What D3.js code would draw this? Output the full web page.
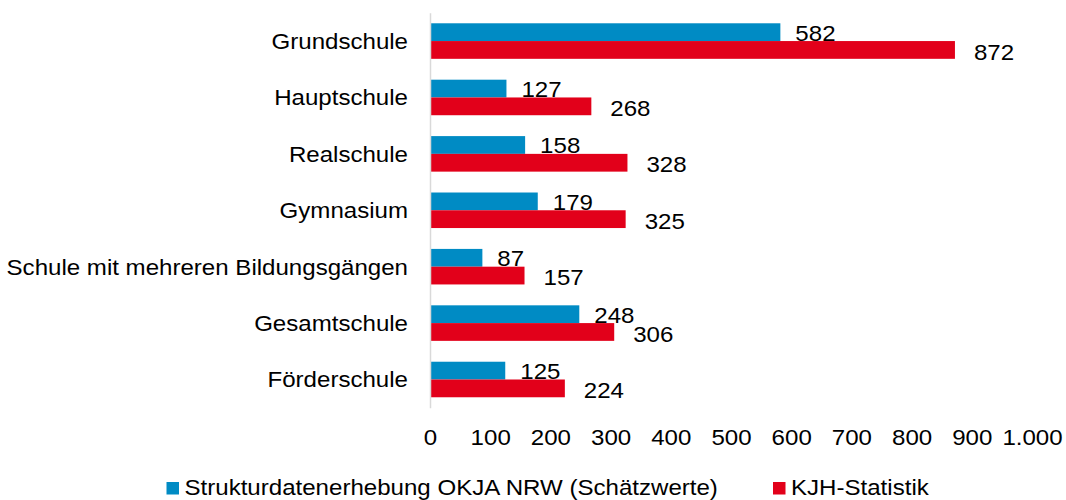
<!DOCTYPE html>
<html>
<head>
<meta charset="utf-8">
<script src="https://cdn.jsdelivr.net/npm/d3@7"></script>
<style>
  html, body { margin: 0; padding: 0; background: #ffffff; }
  svg { display: block; }
  text { font-family: "Liberation Sans", Arial, sans-serif; fill: #000; }
</style>
</head>
<body>
<svg id="chart" width="1066" height="500"></svg>
<script>
const categories = ["Grundschule", "Hauptschule", "Realschule", "Gymnasium",
  "Schule mit mehreren Bildungsgängen", "Gesamtschule", "Förderschule"];
const seriesNames = ["Strukturdatenerhebung OKJA NRW (Schätzwerte)", "KJH-Statistik"];
const okjaValues = [582, 127, 158, 179, 87, 248, 125];
const kjhValues = [872, 268, 328, 325, 157, 306, 224];
const tickValues = [0, 100, 200, 300, 400, 500, 600, 700, 800, 900, 1000];
const colors = ["#008BC4", "#E2001A"];

const FONT = 22.5, SX = 1.07;
const svg = d3.select("#chart");
const locale = d3.formatLocale({decimal: ",", thousands: ".", grouping: [3], currency: ["", "€"]});
const fmt = locale.format(",");

const x = d3.scaleLinear().domain([0, 1000]).range([430, 1032]);
const y = d3.scaleBand().domain(categories).range([12.85, 407.7])
  .paddingInner(0.37).paddingOuter(0.185);
const ySub = d3.scaleBand().domain([0, 1]).range([0, y.bandwidth()]);

const series = [okjaValues, kjhValues];

// bars
series.forEach((vals, s) => {
  svg.append("g").selectAll("rect").data(vals).join("rect")
    .attr("x", x(0))
    .attr("y", (d, i) => y(categories[i]) + ySub(s))
    .attr("width", d => x(d) - x(0))
    .attr("height", ySub.bandwidth())
    .attr("fill", colors[s]);
});

// value labels
const labelDx = [15, 19];
const labelDy = [8.5, 9.6];
series.forEach((vals, s) => {
  svg.append("g").selectAll("text").data(vals).join("text")
    .attr("transform", (d, i) => {
      const tx = x(d) + labelDx[s];
      const ty = y(categories[i]) + ySub(s) + ySub.bandwidth() / 2 + labelDy[s];
      return `translate(${tx},${ty}) scale(${SX},1)`;
    })
    .attr("text-anchor", "start")
    .style("font-size", FONT + "px")
    .text(d => fmt(d));
});

// category axis
const yAxis = svg.append("g").attr("transform", `translate(${x(0)},0)`)
  .call(d3.axisLeft(y).tickSize(0).tickSizeOuter(0).tickPadding(0));
yAxis.select(".domain").attr("stroke", "#d9d9d9").attr("stroke-width", 1.5);
yAxis.selectAll(".tick text")
  .attr("x", null).attr("dy", null)
  .attr("transform", `translate(-22,${FONT * 0.355}) scale(${SX},1)`)
  .attr("text-anchor", "end")
  .style("font-size", FONT + "px")
  .style("font-family", '"Liberation Sans", Arial, sans-serif')
  .attr("fill", "#000");

// value axis (labels only)
const xAxis = svg.append("g").attr("transform", "translate(0,445)")
  .call(d3.axisBottom(x).tickValues(tickValues).tickFormat(fmt).tickSize(0).tickPadding(0));
xAxis.select(".domain").remove();
xAxis.selectAll(".tick text")
  .attr("y", null).attr("dy", null)
  .attr("transform", `scale(${SX},1)`)
  .style("font-size", FONT + "px")
  .style("font-family", '"Liberation Sans", Arial, sans-serif')
  .attr("fill", "#000");

// legend
const legendX = [166.5, 773];
const legend = svg.append("g");
seriesNames.forEach((name, s) => {
  const g = legend.append("g").attr("transform", `translate(${legendX[s]},482)`);
  g.append("rect").attr("width", 12.5).attr("height", 12.5).attr("fill", colors[s]);
  g.append("text")
    .attr("transform", `translate(18,13) scale(${SX},1)`)
    .style("font-size", FONT + "px")
    .text(name);
});
</script>
</body>
</html>
